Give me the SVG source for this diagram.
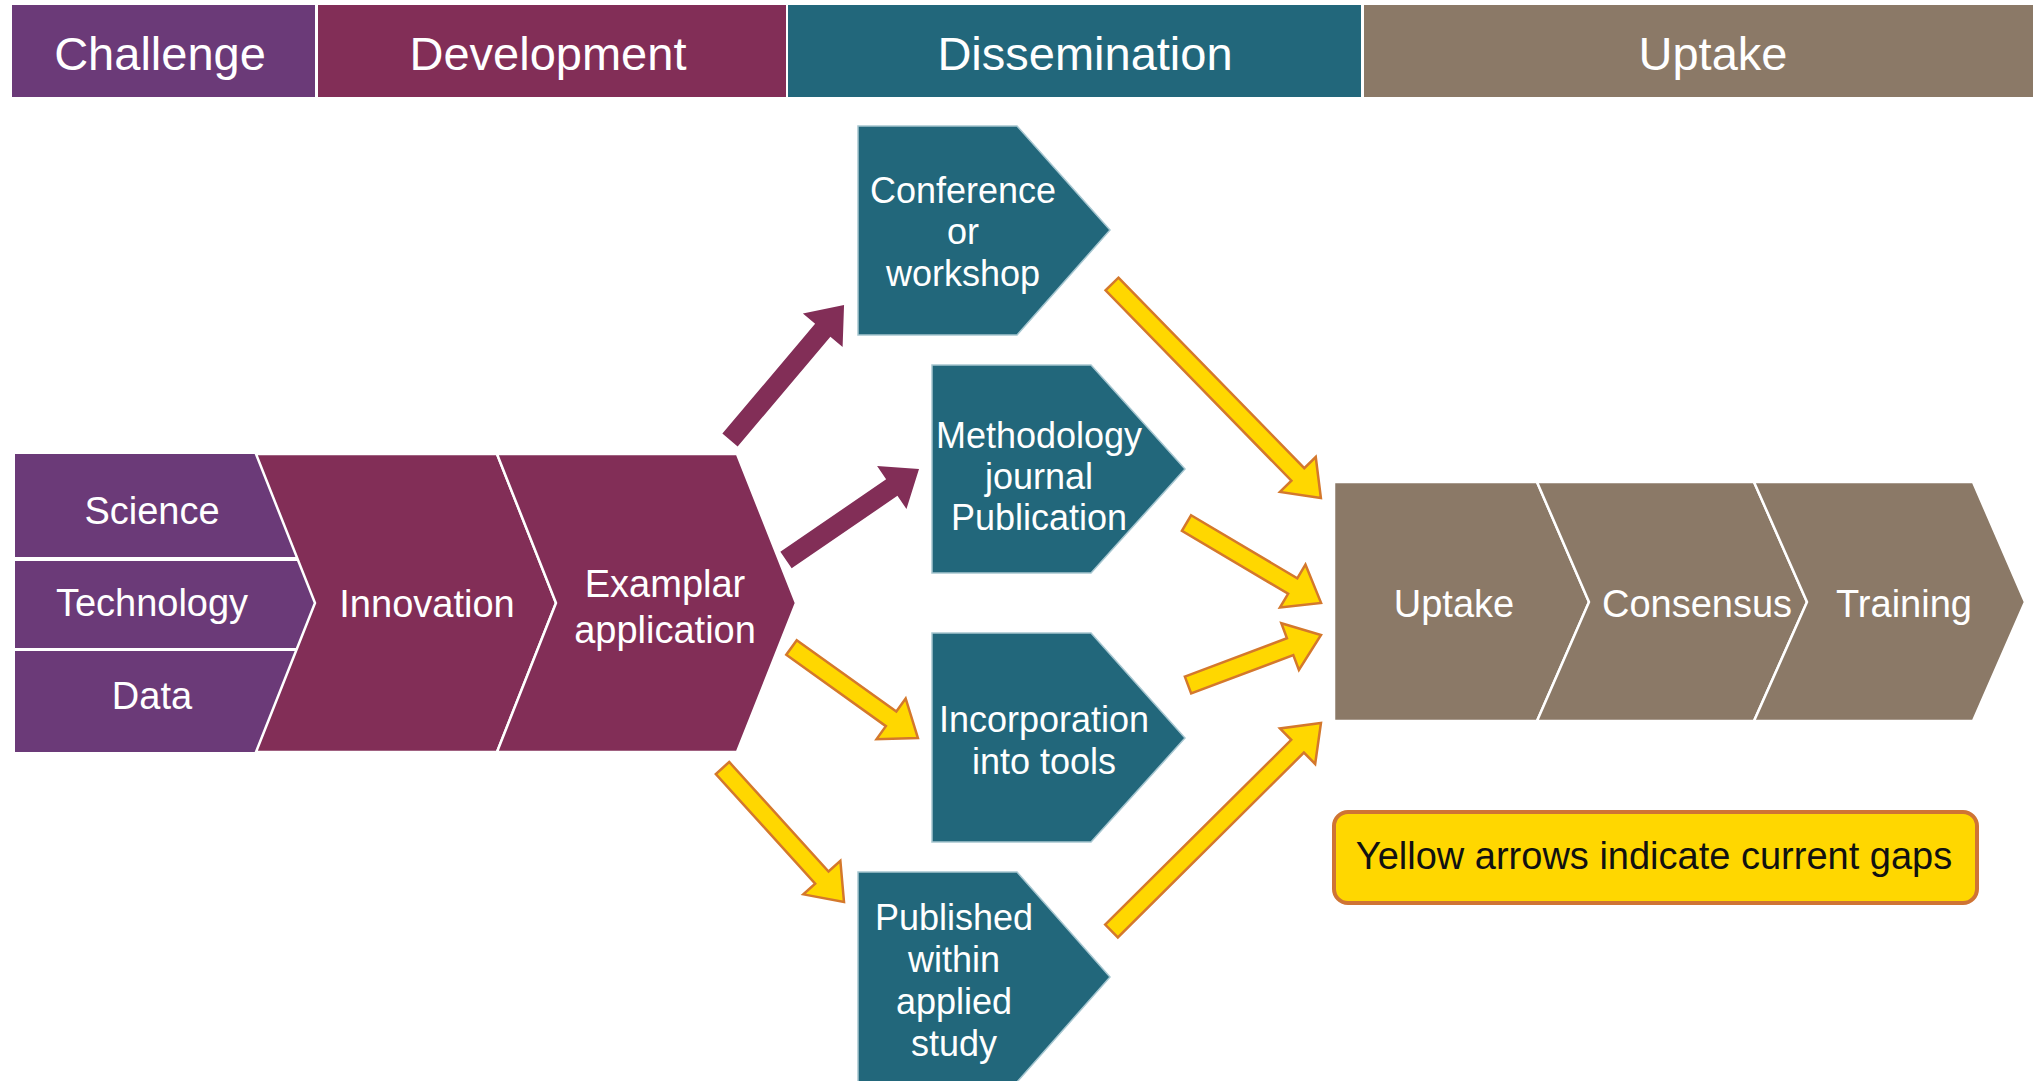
<svg xmlns="http://www.w3.org/2000/svg" width="2033" height="1081" viewBox="0 0 2033 1081">
<style>
  .t { font-family: "Liberation Sans", Arial, sans-serif; fill: #ffffff; text-anchor: middle; }
  .hdr { font-size: 47px; }
  .lbl { font-size: 38px; }
  .dis { font-size: 36px; }
  .purple { fill: #6b3a78; }
  .maroon { fill: #822e57; }
  .teal { fill: #22677b; }
  .brown { fill: #8b7967; }
  .chev { stroke: #ffffff; stroke-width: 2.5; stroke-linejoin: miter; }
  .pent { fill: #22677b; stroke: #a6c6d0; stroke-width: 1.5; }
  .pa { fill: #822e57; }
  .ya { fill: #ffd700; stroke: #d4782c; stroke-width: 2.5; stroke-linejoin: miter; }
</style>
<rect width="2033" height="1081" fill="#ffffff"/>

<g id="header">
  <g id="h-challenge"><rect class="purple" x="12" y="5" width="303" height="92"/><text class="t hdr" x="160" y="70">Challenge</text></g>
  <g id="h-development"><rect class="maroon" x="318" y="5" width="468" height="92"/><text class="t hdr" x="548" y="70">Development</text></g>
  <g id="h-dissemination"><rect class="teal" x="788" y="5" width="573" height="92"/><text class="t hdr" x="1085" y="70">Dissemination</text></g>
  <g id="h-uptake"><rect class="brown" x="1364" y="5" width="669" height="92"/><text class="t hdr" x="1713" y="70">Uptake</text></g>
</g>

<g id="science"><polygon class="purple" points="15,454 256,454 297,557 15,557"/><text class="t lbl" x="152" y="524">Science</text></g>
<g id="technology"><polygon class="purple" points="15,561 298,561 315,603 297,648 15,648"/><text class="t lbl" x="152" y="616">Technology</text></g>
<g id="data"><polygon class="purple" points="15,651 296,651 256,752 15,752"/><text class="t lbl" x="152" y="709">Data</text></g>

<g id="innovation"><polygon class="maroon chev" points="256,454 497,454 556,603 497,752 256,752 315,603"/><text class="t lbl" x="427" y="617">Innovation</text></g>
<g id="exemplar"><polygon class="maroon chev" points="497,454 737,454 796,603 737,752 497,752 556,603"/><text class="t lbl" x="665" y="597">Examplar</text><text class="t lbl" x="665" y="643">application</text></g>

<g id="conference"><polygon class="pent" points="858,126 1017,126 1110,230 1017,335 858,335"/>
  <text class="t dis" x="963" y="203">Conference</text><text class="t dis" x="963" y="244">or</text><text class="t dis" x="963" y="286">workshop</text></g>
<g id="methodology"><polygon class="pent" points="932,365 1091,365 1185,469 1091,573 932,573"/>
  <text class="t dis" x="1039" y="448">Methodology</text><text class="t dis" x="1039" y="489">journal</text><text class="t dis" x="1039" y="530">Publication</text></g>
<g id="incorporation"><polygon class="pent" points="932,633 1091,633 1185,738 1091,842 932,842"/>
  <text class="t dis" x="1044" y="732">Incorporation</text><text class="t dis" x="1044" y="774">into tools</text></g>
<g id="published"><polygon class="pent" points="858,872 1017,872 1110,977 1017,1082 858,1082"/>
  <text class="t dis" x="954" y="930">Published</text><text class="t dis" x="954" y="972">within</text><text class="t dis" x="954" y="1014">applied</text><text class="t dis" x="954" y="1056">study</text></g>

<g id="uptake"><polygon class="brown chev" points="1334,482 1537,482 1589,602 1537,721 1334,721"/><text class="t lbl" x="1454" y="617">Uptake</text></g>
<g id="consensus"><polygon class="brown chev" points="1537,482 1754,482 1807,602 1754,721 1537,721 1589,602"/><text class="t lbl" x="1697" y="617">Consensus</text></g>
<g id="training"><polygon class="brown chev" points="1754,482 1973,482 2025,602 1973,721 1754,721 1807,602"/><text class="t lbl" x="1904" y="617">Training</text></g>

<g id="legend"><rect x="1334" y="812" width="643" height="91" rx="14" fill="#ffd700" stroke="#cf7434" stroke-width="4"/>
  <text x="1654" y="869" font-family="Liberation Sans, Arial, sans-serif" font-size="38" fill="#111111" text-anchor="middle">Yellow arrows indicate current gaps</text></g>

<g id="connectors">
  <polygon class="pa" transform="translate(730,440) rotate(-49.8)" points="0,-10 143.7,-10 143.7,-26 176.7,0 143.7,26 143.7,10 0,10"/>
  <polygon class="pa" transform="translate(786,560) rotate(-34.4)" points="0,-10 128.2,-10 128.2,-26 161.2,0 128.2,26 128.2,10 0,10"/>
  <polygon class="ya" transform="translate(791.5,647.5) rotate(35.6)" points="0,-9 122.5,-9 122.5,-25 155.5,0 122.5,25 122.5,9 0,9"/>
  <polygon class="ya" transform="translate(722.5,768) rotate(47.8)" points="0,-9 147.9,-9 147.9,-25 180.9,0 147.9,25 147.9,9 0,9"/>
  <polygon class="ya" transform="translate(1112,284) rotate(45.7)" points="0,-9 266.1,-9 266.1,-25 299.1,0 266.1,25 266.1,9 0,9"/>
  <polygon class="ya" transform="translate(1186.5,523) rotate(30.7)" points="0,-9 123.5,-9 123.5,-25 156.5,0 123.5,25 123.5,9 0,9"/>
  <polygon class="ya" transform="translate(1188,685) rotate(-20.6)" points="0,-9 109.1,-9 109.1,-25 142.1,0 109.1,25 109.1,9 0,9"/>
  <polygon class="ya" transform="translate(1111.5,931) rotate(-44.8)" points="0,-9 262.2,-9 262.2,-25 295.2,0 262.2,25 262.2,9 0,9"/>
</g>
</svg>
